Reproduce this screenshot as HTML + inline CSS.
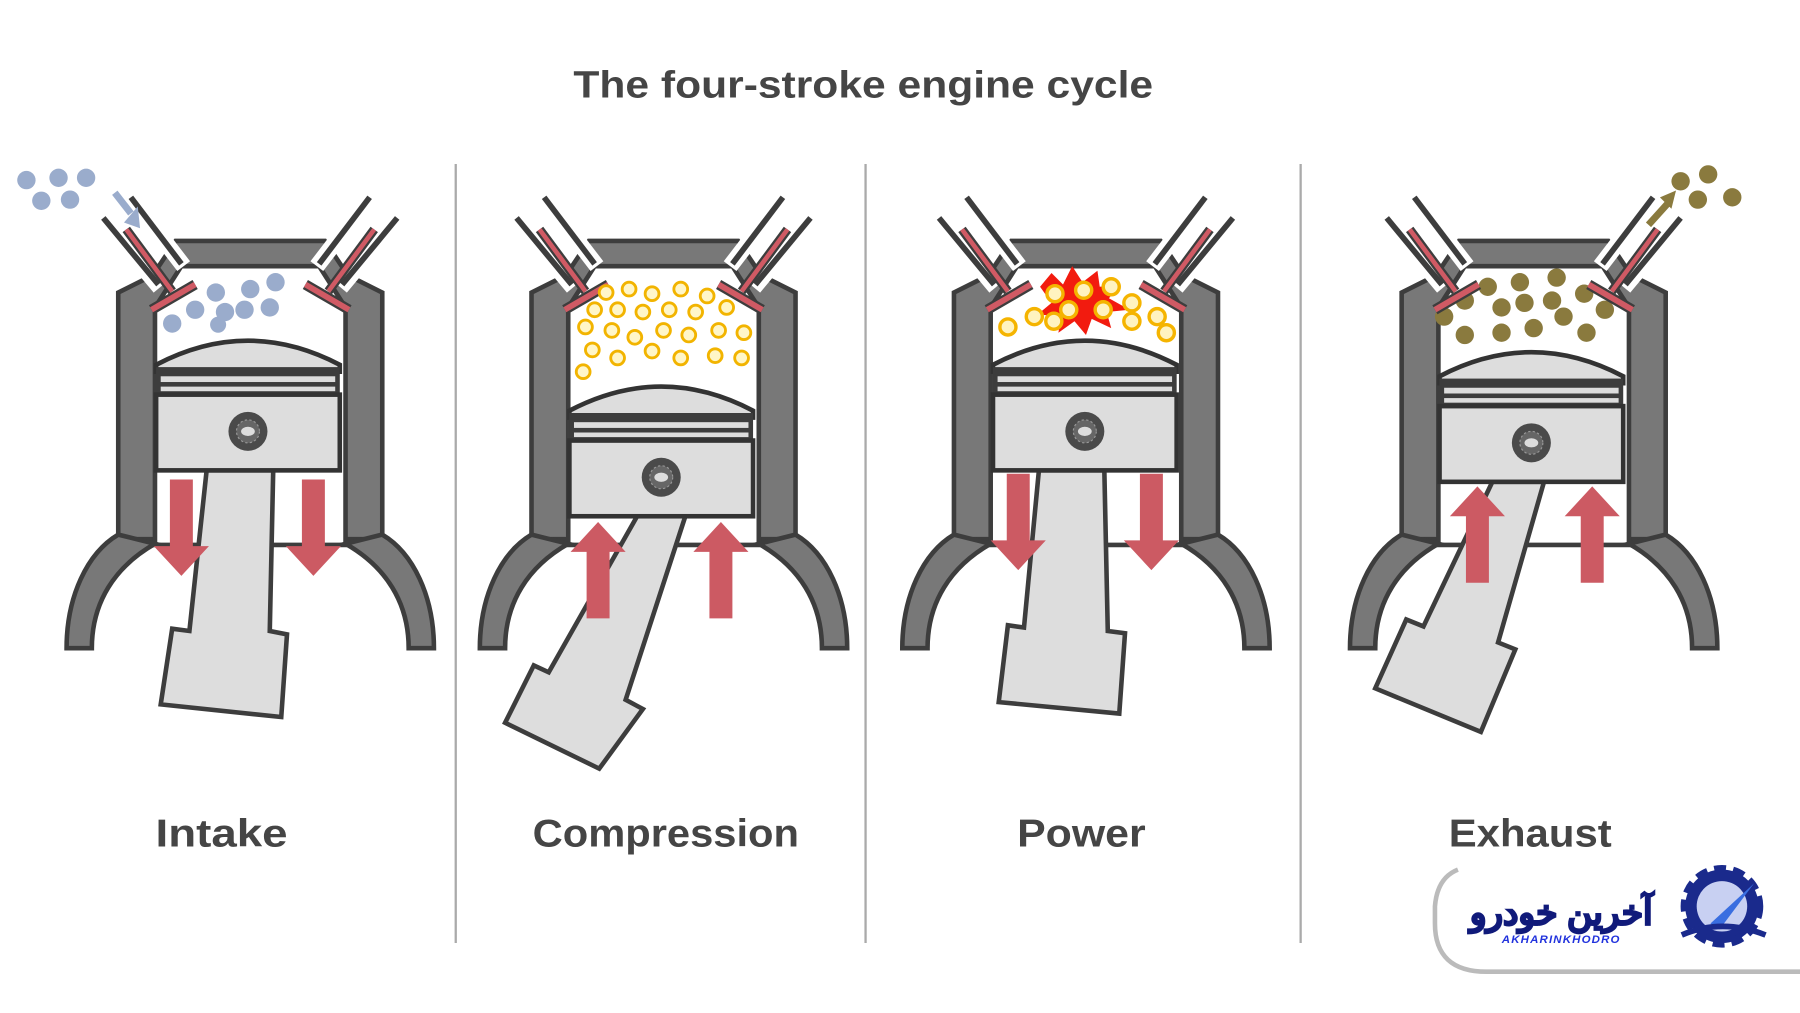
<!DOCTYPE html>
<html><head><meta charset="utf-8"><style>
html,body{margin:0;padding:0;background:#fff;}
svg{display:block}
</style></head><body>
<svg width="1800" height="1013" viewBox="0 0 1568 883" preserveAspectRatio="none" xmlns="http://www.w3.org/2000/svg">
<defs>
<g id="cyl">
  <path d="M-115,470 L-115,255 L-85,240 L-65,210 L65,210 L85,240 L115,255 L115,470 Z" fill="#787878" stroke="#3d3d3d" stroke-width="4"/>
  <path d="M-83,475 L-83,268 L-60,232 L60,232 L83,268 L83,475 Z" fill="#fff" stroke="#3d3d3d" stroke-width="4"/>
  <path d="M-115,466 C-142,482 -160,520 -160,565 L-138,565 C-138,525 -118,494 -83,474 Z" fill="#787878" stroke="#3d3d3d" stroke-width="4"/>
  <path d="M115,466 C142,482 160,520 160,565 L138,565 C138,525 118,494 83,474 Z" fill="#787878" stroke="#3d3d3d" stroke-width="4"/>
</g>
<g id="valve">
  <line x1="-128" y1="190" x2="-78" y2="250" stroke="#fff" stroke-width="16"/>
  <line x1="-104" y1="172" x2="-58" y2="232" stroke="#fff" stroke-width="14"/>
  <line x1="-128" y1="190" x2="-80" y2="248" stroke="#3d3d3d" stroke-width="5"/>
  <line x1="-104" y1="172" x2="-60" y2="230" stroke="#3d3d3d" stroke-width="5"/>
  <line x1="-108" y1="200" x2="-68" y2="254" stroke="#3d3d3d" stroke-width="8"/>
  <line x1="-108" y1="200" x2="-68" y2="254" stroke="#d05a64" stroke-width="4"/>
  <line x1="-86" y1="270" x2="-48" y2="248" stroke="#3d3d3d" stroke-width="9"/>
  <line x1="-86" y1="270" x2="-48" y2="248" stroke="#d05a64" stroke-width="5"/>
</g>
<g id="valves"><use href="#valve"/><use href="#valve" transform="scale(-1,1)"/></g>
<g id="piston">
  <path d="M-80,-58 Q0,-100 80,-58 L80,-52 L-80,-52 Z" fill="#ddd" stroke="#333" stroke-width="4"/>
  <rect x="-80" y="-56" width="160" height="24" fill="#3d3d3d"/>
  <rect x="-76" y="-48" width="152" height="5" fill="#ddd"/>
  <rect x="-76" y="-39" width="152" height="4" fill="#ddd"/>
  <rect x="-80" y="-32" width="160" height="66" fill="#ddd" stroke="#333" stroke-width="4"/>
  <circle cx="0" cy="0" r="17" fill="#4a4a4a"/>
  <circle cx="0" cy="0" r="10" fill="#666" stroke="#999" stroke-width="1" stroke-dasharray="2 2"/>
  <ellipse cx="0" cy="0" rx="6" ry="4" fill="#ddd"/>
</g>
<path id="down" d="M-10,0 L10,0 L10,58 L24,58 L0,84 L-24,58 L-10,58 Z" fill="#cc5a63"/>
<path id="up" d="M-10,84 L10,84 L10,26 L24,26 L0,0 L-24,26 L-10,26 Z" fill="#cc5a63"/>
</defs>

<text x="752" y="85" text-anchor="middle" font-family="Liberation Sans, sans-serif" font-weight="bold" font-size="33" fill="#454545" textLength="505" lengthAdjust="spacingAndGlyphs">The four-stroke engine cycle</text>

<line x1="397" y1="143" x2="397" y2="822" stroke="#aaa" stroke-width="2"/>
<line x1="754" y1="143" x2="754" y2="822" stroke="#aaa" stroke-width="2"/>
<line x1="1133" y1="143" x2="1133" y2="822" stroke="#aaa" stroke-width="2"/>

<!-- Intake -->
<g transform="translate(218,0)">
  <use href="#cyl"/>
  <g fill="#9aaccc">
    <circle cx="-30" cy="255" r="8"/><circle cx="0" cy="252" r="8"/><circle cx="22" cy="246" r="8"/>
    <circle cx="-48" cy="270" r="8"/><circle cx="-22" cy="272" r="8"/><circle cx="-5" cy="270" r="8"/><circle cx="17" cy="268" r="8"/>
    <circle cx="-68" cy="282" r="8"/><circle cx="-28" cy="283" r="7"/>
  </g>
  <use href="#valves"/>
  <g fill="#9aaccc">
    <circle cx="-195" cy="157" r="8"/><circle cx="-167" cy="155" r="8"/><circle cx="-143" cy="155" r="8"/>
    <circle cx="-182" cy="175" r="8"/><circle cx="-157" cy="174" r="8"/>
  </g>
  <line x1="-118" y1="168" x2="-104" y2="186" stroke="#9aaccc" stroke-width="6"/>
  <path d="M-110,194 L-98,180 L-96,199 Z" fill="#9aaccc"/>
</g>
<path d="M180,410 L238,410 L235,550 L250,553 L245,625 L140,614 L150,548 L165,550 Z" fill="#ddd" stroke="#3d3d3d" stroke-width="4"/>
<use href="#piston" x="216" y="376"/>
<use href="#down" x="158" y="418"/>
<use href="#down" x="273" y="418"/>

<!-- Compression -->
<g transform="translate(578,0)">
  <use href="#cyl"/>
  <use href="#valves"/>
  <g fill="#fff6c8" stroke="#f2b400" stroke-width="2.5">
    <circle cx="-50" cy="255" r="6"/><circle cx="-30" cy="252" r="6"/><circle cx="-10" cy="256" r="6"/><circle cx="15" cy="252" r="6"/><circle cx="38" cy="258" r="6"/>
    <circle cx="-60" cy="270" r="6"/><circle cx="-40" cy="270" r="6"/><circle cx="-18" cy="272" r="6"/><circle cx="5" cy="270" r="6"/><circle cx="28" cy="272" r="6"/><circle cx="55" cy="268" r="6"/>
    <circle cx="-68" cy="285" r="6"/><circle cx="-45" cy="288" r="6"/><circle cx="-25" cy="294" r="6"/><circle cx="0" cy="288" r="6"/><circle cx="22" cy="292" r="6"/><circle cx="48" cy="288" r="6"/><circle cx="70" cy="290" r="6"/>
    <circle cx="-62" cy="305" r="6"/><circle cx="-40" cy="312" r="6"/><circle cx="-10" cy="306" r="6"/><circle cx="15" cy="312" r="6"/><circle cx="45" cy="310" r="6"/><circle cx="68" cy="312" r="6"/>
    <circle cx="-70" cy="324" r="6"/>
  </g>
</g>
<path d="M555,450 L597,450 L545,610 L560,618 L522,670 L440,630 L465,580 L478,586 Z" fill="#ddd" stroke="#3d3d3d" stroke-width="4"/>
<use href="#piston" x="576" y="416"/>
<use href="#up" x="521" y="455"/>
<use href="#up" x="628" y="455"/>

<!-- Power -->
<g transform="translate(946,0)">
  <use href="#cyl"/>
  <use href="#valves"/>
  <path d="M-40,250 L-30,238 L-20,248 L-12,232 L-3,246 L10,236 L12,250 L30,248 L20,260 L38,270 L18,272 L22,286 L5,278 L0,292 L-10,280 L-24,290 L-22,276 L-42,274 L-30,264 Z" fill="#f21b0f"/>
  <g fill="#fff3c0" stroke="#f5b400" stroke-width="3">
    <circle cx="-27" cy="256" r="7"/><circle cx="-2" cy="253" r="7"/><circle cx="22" cy="250" r="7"/>
    <circle cx="-15" cy="270" r="7"/><circle cx="15" cy="270" r="7"/><circle cx="-28" cy="280" r="7"/>
    <circle cx="-45" cy="276" r="7"/><circle cx="-68" cy="285" r="7"/><circle cx="40" cy="264" r="7"/><circle cx="40" cy="280" r="7"/><circle cx="62" cy="276" r="7"/><circle cx="70" cy="290" r="7"/>
  </g>
</g>
<path d="M905,410 L962,410 L965,550 L980,552 L975,622 L870,612 L878,545 L892,547 Z" fill="#ddd" stroke="#3d3d3d" stroke-width="4"/>
<use href="#piston" x="945" y="376"/>
<use href="#down" x="887" y="413"/>
<use href="#down" x="1003" y="413"/>

<!-- Exhaust -->
<g transform="translate(1336,0)">
  <use href="#cyl"/>
  <g fill="#8a7a3e">
    <circle cx="-40" cy="250" r="8"/><circle cx="-12" cy="246" r="8"/><circle cx="20" cy="242" r="8"/><circle cx="44" cy="256" r="8"/>
    <circle cx="-60" cy="262" r="8"/><circle cx="-28" cy="268" r="8"/><circle cx="-8" cy="264" r="8"/><circle cx="16" cy="262" r="8"/><circle cx="62" cy="270" r="8"/>
    <circle cx="-78" cy="276" r="8"/><circle cx="-60" cy="292" r="8"/><circle cx="-28" cy="290" r="8"/><circle cx="0" cy="286" r="8"/><circle cx="26" cy="276" r="8"/><circle cx="46" cy="290" r="8"/>
  </g>
  <use href="#valves"/>
  <line x1="100" y1="196" x2="118" y2="176" stroke="#8a7a3e" stroke-width="6"/>
  <path d="M110,172 L124,166 L120,182 Z" fill="#8a7a3e"/>
  <g fill="#8a7a3e">
    <circle cx="128" cy="158" r="8"/><circle cx="152" cy="152" r="8"/><circle cx="143" cy="174" r="8"/><circle cx="173" cy="172" r="8"/>
  </g>
</g>
<path d="M1300,420 L1345,420 L1305,560 L1320,566 L1290,638 L1198,600 L1225,540 L1240,546 Z" fill="#ddd" stroke="#3d3d3d" stroke-width="4"/>
<use href="#piston" x="1334" y="386"/>
<use href="#up" x="1287" y="424"/>
<use href="#up" x="1387" y="424"/>

<g font-family="Liberation Sans, sans-serif" font-weight="bold" font-size="34" fill="#454545" text-anchor="middle" lengthAdjust="spacingAndGlyphs">
  <text x="193" y="738" textLength="115" lengthAdjust="spacingAndGlyphs">Intake</text>
  <text x="580" y="738" textLength="232" lengthAdjust="spacingAndGlyphs">Compression</text>
  <text x="942" y="738" textLength="112" lengthAdjust="spacingAndGlyphs">Power</text>
  <text x="1333" y="738" textLength="142" lengthAdjust="spacingAndGlyphs">Exhaust</text>
</g>

<!-- logo -->
<path d="M1568,847 L1295,847 Q1250,847 1250,805 L1250,790 Q1252,765 1270,758" fill="none" stroke="#bbb" stroke-width="4"/>
<text x="1360" y="806" text-anchor="middle" font-family="Liberation Sans, 'Noto Sans CJK SC', sans-serif" font-weight="bold" font-size="30" fill="#101a7a" stroke="#101a7a" stroke-width="1.5">آخرین خودرو</text>
<text x="1360" y="822" text-anchor="middle" font-family="Liberation Sans, sans-serif" font-weight="bold" font-style="italic" font-size="10" fill="#2233dd" letter-spacing="1">AKHARINKHODRO</text>
<circle cx="1500" cy="790" r="32" fill="#1a2a8c" stroke="#1a2a8c" stroke-width="8" stroke-dasharray="10 6"/>
<circle cx="1500" cy="790" r="22" fill="#c8d0f2"/>
<path d="M1490,805 L1528,770 L1498,810 Z" fill="#3a6ee0"/>
<path d="M1465,815 Q1500,800 1538,815" fill="none" stroke="#1a2a8c" stroke-width="5"/>
</svg>
</body></html>
